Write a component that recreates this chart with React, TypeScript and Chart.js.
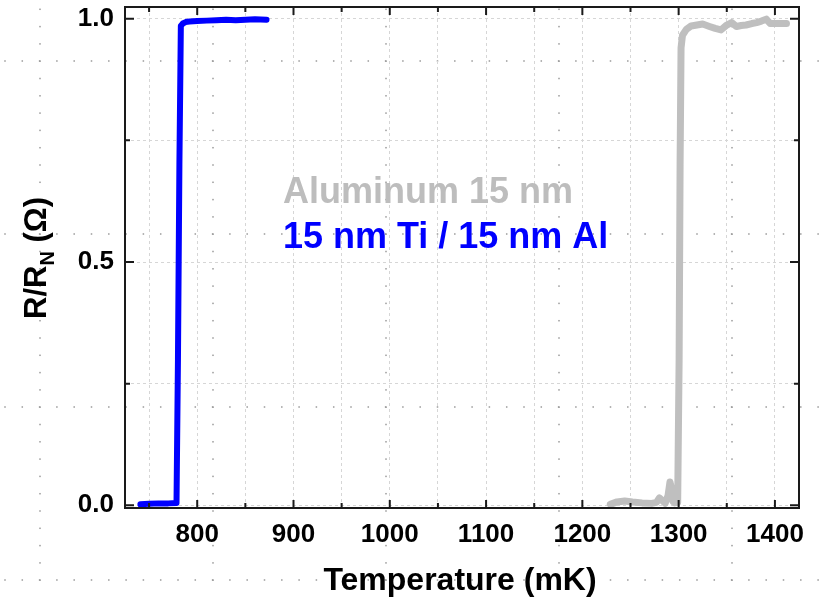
import React, { useEffect, useRef } from "react";
import { Chart, registerables } from "chart.js";

Chart.register(...registerables);

// ---- data ----
const blueT = [741, 750, 760, 770, 778.5, 780, 781.5, 783, 785, 788, 792, 800, 810, 820, 830, 840, 850, 860, 872];
const blueR = [0.002, 0.003, 0.004, 0.004, 0.005, 0.3, 0.7, 0.985, 0.99, 0.993, 0.994, 0.995, 0.996, 0.997, 0.998, 0.997, 0.998, 0.999, 0.998];

const grayT = [1229, 1236, 1244, 1252, 1262, 1272, 1277, 1280, 1283, 1286, 1289, 1291, 1292.5, 1294, 1296, 1299, 1300.5, 1301.5, 1302.5, 1304, 1308, 1313, 1319, 1325, 1332, 1338, 1344, 1350, 1355, 1360, 1365, 1370, 1376, 1381, 1386, 1391, 1395, 1400, 1406, 1412];
const grayR = [0.002, 0.007, 0.009, 0.007, 0.005, 0.004, 0.006, 0.015, 0.01, 0.004, 0.02, 0.048, 0.035, 0.008, 0.005, 0.006, 0.3, 0.7, 0.94, 0.966, 0.978, 0.985, 0.987, 0.989, 0.984, 0.98, 0.977, 0.987, 0.992, 0.984, 0.986, 0.987, 0.99, 0.992, 0.995, 0.999, 0.99, 0.99, 0.99, 0.99];

const xMajorTicks = [800, 900, 1000, 1100, 1200, 1300, 1400];
const xMinorTicks = [750, 850, 950, 1050, 1150, 1250, 1350];
const yMajorTicks = [0, 0.5, 1.0];
const yMinorTicks = [0.25, 0.75];

const xTitle = "Temperature (mK)";
const yTitleMain = "R/R";
const yTitleSub = "N";
const yTitleTail = " (\u03A9)";
const labelAl = "Aluminum 15 nm";
const labelTiAl = "15 nm Ti / 15 nm Al";
const labelAnchorT = 889;
const labelAlR = 0.621;
const labelTiAlR = 0.529;

const FONT = "'Liberation Sans', Arial, Helvetica, sans-serif";
const BLUE = "#0000ff";
const GRAY = "#bfbfbf";

const pagePlugin = {
  id: "pageDots",
  beforeDraw(chart: any) {
    const ctx = chart.ctx;
    ctx.save();
    ctx.fillStyle = "#ffffff";
    ctx.fillRect(0, 0, chart.width, chart.height);
    ctx.fillStyle = "#9a9a9a";
    const step = 17.3;
    for (let k = 0; k < 5; k++) {
      const x = 40 + 173 * k;
      for (let y = 9.3; y < chart.height; y += step) ctx.fillRect(x - 0.75, y - 0.75, 1.5, 1.5);
    }
    for (let k = 0; k < 4; k++) {
      const y = 61 + 173 * k;
      for (let x = 5; x < chart.width; x += step) ctx.fillRect(x - 0.75, y - 0.75, 1.5, 1.5);
    }
    ctx.restore();
  },
};

const framePlugin = {
  id: "frame",
  afterDatasetsDraw(chart: any) {
    const ctx = chart.ctx;
    const { left, right, top, bottom } = chart.chartArea;
    const xs = chart.scales.x;
    const ys = chart.scales.y;
    ctx.save();
    ctx.strokeStyle = "#1a1a1a";
    ctx.lineWidth = 2;
    ctx.strokeRect(left, top, right - left, bottom - top);
    ctx.beginPath();
    const tick = (v: number, len: number, horiz: boolean) => {
      if (horiz) {
        const p = xs.getPixelForValue(v);
        ctx.moveTo(p, bottom); ctx.lineTo(p, bottom - len);
        ctx.moveTo(p, top); ctx.lineTo(p, top + len);
      } else {
        const p = ys.getPixelForValue(v);
        ctx.moveTo(left, p); ctx.lineTo(left + len, p);
        ctx.moveTo(right, p); ctx.lineTo(right - len, p);
      }
    };
    xMajorTicks.forEach((v) => tick(v, 8, true));
    xMinorTicks.forEach((v) => tick(v, 5, true));
    yMajorTicks.forEach((v) => tick(v, 9, false));
    yMinorTicks.forEach((v) => tick(v, 5, false));
    ctx.stroke();
    ctx.restore();
  },
  afterDraw(chart: any) {
    const ctx = chart.ctx;
    const xs = chart.scales.x;
    const ys = chart.scales.y;
    ctx.save();
    // annotations
    ctx.textAlign = "left";
    ctx.textBaseline = "alphabetic";
    ctx.font = `bold 36px ${FONT}`;
    const ax = xs.getPixelForValue(labelAnchorT);
    ctx.fillStyle = "#bdbdbd";
    ctx.fillText(labelAl, ax, ys.getPixelForValue(labelAlR));
    ctx.fillStyle = BLUE;
    ctx.fillText(labelTiAl, ax, ys.getPixelForValue(labelTiAlR));
    // x title
    ctx.fillStyle = "#000";
    ctx.textAlign = "center";
    ctx.font = `bold 32px ${FONT}`;
    ctx.fillText(xTitle, 460, 590);
    // y title
    ctx.translate(46, 258);
    ctx.rotate(-Math.PI / 2);
    const mainFont = `bold 31px ${FONT}`;
    const subFont = `bold 20px ${FONT}`;
    ctx.font = mainFont;
    const w1 = ctx.measureText(yTitleMain).width;
    const w3 = ctx.measureText(yTitleTail).width;
    ctx.font = subFont;
    const w2 = ctx.measureText(yTitleSub).width;
    let x0 = -(w1 + w2 + w3) / 2;
    ctx.textAlign = "left";
    ctx.font = mainFont;
    ctx.fillText(yTitleMain, x0, 0);
    x0 += w1;
    ctx.font = subFont;
    ctx.fillText(yTitleSub, x0, 8);
    x0 += w2;
    ctx.font = mainFont;
    ctx.fillText(yTitleTail, x0, 0);
    ctx.restore();
  },
};

export default function App() {
  const ref = useRef<HTMLCanvasElement | null>(null);
  useEffect(() => {
    if (!ref.current) return;
    const chart = new Chart(ref.current, {
      type: "line",
      data: {
        datasets: [
          {
            label: labelAl,
            data: grayT.map((t, i) => ({ x: t, y: grayR[i] })),
            borderColor: GRAY,
            borderWidth: 7,
            pointRadius: 0,
            tension: 0,
            borderJoinStyle: "round",
            borderCapStyle: "round",
          },
          {
            label: labelTiAl,
            data: blueT.map((t, i) => ({ x: t, y: blueR[i] })),
            borderColor: BLUE,
            borderWidth: 6,
            pointRadius: 0,
            tension: 0,
            borderJoinStyle: "round",
            borderCapStyle: "round",
          },
        ],
      },
      options: {
        animation: false,
        responsive: false,
        devicePixelRatio: 1,
        layout: { padding: { left: 0, top: 7, right: 27, bottom: 0 } },
        plugins: { legend: { display: false }, tooltip: { enabled: false }, title: { display: false } },
        scales: {
          x: {
            type: "linear",
            min: 725,
            max: 1425,
            afterFit: (s: any) => { s.height = 89; s.paddingLeft = 0; s.paddingRight = 0; },
            afterBuildTicks: (s: any) => {
              s.ticks = [...xMinorTicks, ...xMajorTicks].sort((a, b) => a - b).map((v) => ({ value: v }));
            },
            grid: { color: "#d6d6d6", lineWidth: 1, drawTicks: false },
            border: { display: false, dash: [3, 3] },
            ticks: {
              padding: 11,
              color: "#000",
              font: { family: FONT, size: 26, weight: "bold" },
              maxRotation: 0,
              autoSkip: false,
              callback: (v: any) => (xMajorTicks.includes(Number(v)) ? String(v) : ""),
            },
          },
          y: {
            type: "linear",
            min: -0.0055,
            max: 1.024,
            afterFit: (s: any) => { s.width = 125; s.paddingTop = 0; s.paddingBottom = 0; },
            afterBuildTicks: (s: any) => {
              s.ticks = [...yMajorTicks, ...yMinorTicks].sort((a, b) => a - b).map((v) => ({ value: v }));
            },
            grid: { color: "#d6d6d6", lineWidth: 1, drawTicks: false },
            border: { display: false, dash: [3, 3] },
            ticks: {
              padding: 11,
              color: "#000",
              font: { family: FONT, size: 26, weight: "bold" },
              autoSkip: false,
              callback: (v: any) => (yMajorTicks.includes(Number(v)) ? Number(v).toFixed(1) : ""),
            },
          },
        },
      },
      plugins: [pagePlugin, framePlugin],
    } as any);
    return () => chart.destroy();
  }, []);
  return (
    <div style={{ position: "fixed", left: 0, top: 0, width: 826, height: 597 }}>
      <canvas ref={ref} width={826} height={597} style={{ display: "block" }} />
    </div>
  );
}
